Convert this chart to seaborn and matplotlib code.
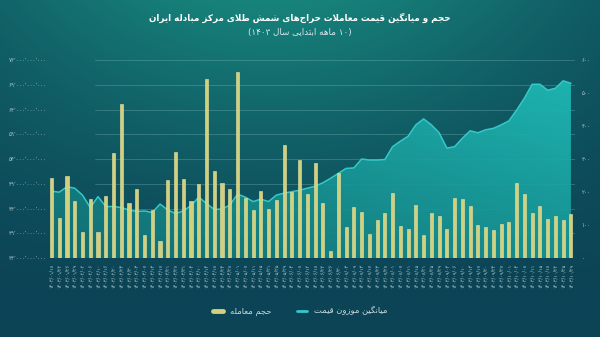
import re
import numpy as np
import matplotlib
matplotlib.use('Agg')
import matplotlib.pyplot as plt
from matplotlib.lines import Line2D
import seaborn as sns

# ── data ─────────────────────────────────────────────────────────────────────
auction_dates = [
    "1403/01/18", "1403/01/22", "1403/01/26", "1403/01/29",
    "1403/02/02", "1403/02/06", "1403/02/10", "1403/02/16", "1403/02/20", "1403/02/24", "1403/02/30",
    "1403/03/03", "1403/03/07", "1403/03/13", "1403/03/17", "1403/03/21", "1403/03/27", "1403/03/31",
    "1403/04/04", "1403/04/10", "1403/04/14", "1403/04/18", "1403/04/24", "1403/04/28",
    "1403/05/01", "1403/05/07", "1403/05/11", "1403/05/15", "1403/05/21", "1403/05/25", "1403/05/29",
    "1403/06/04", "1403/06/08", "1403/06/12", "1403/06/18", "1403/06/22", "1403/06/26", "1403/06/30",
    "1403/07/03", "1403/07/09", "1403/07/13", "1403/07/17", "1403/07/23", "1403/07/27",
    "1403/08/01", "1403/08/07", "1403/08/11", "1403/08/15", "1403/08/21", "1403/08/25", "1403/08/29",
    "1403/09/03", "1403/09/06", "1403/09/10", "1403/09/13", "1403/09/17", "1403/09/20", "1403/09/24", "1403/09/27",
    "1403/10/01", "1403/10/04", "1403/10/08", "1403/10/11", "1403/10/15", "1403/10/18", "1403/10/22",
    "1403/10/25", "1403/10/29",
]

# traded volume (right axis)
volume = [
    243, 120, 248, 173, 78, 178, 78, 188, 317, 467, 166, 210, 70, 145,
    51, 236, 322, 240, 173, 223, 541, 265, 227, 210, 564, 181, 145, 203,
    148, 176, 342, 199, 297, 193, 289, 166, 21, 259, 95, 156, 138,
    73, 115, 135, 196, 98, 89, 160, 69, 136, 127, 87, 182, 180, 158,
    100, 94, 85, 104, 109, 227, 193, 136, 158, 119, 128, 114, 133,
]

# weighted average price, billions (left axis)
price_bn = [
    47.5, 47.3, 48.4, 48.1, 46.7, 44.2, 46.4, 44.4, 44.4, 44.2, 43.7, 43.4, 43.5, 43.2,
    44.9, 43.7, 43.0, 43.5, 44.6, 46.3, 45.0, 43.8, 43.9, 44.7, 46.9, 46.3, 45.4, 45.9,
    45.4, 46.7, 47.1, 47.4, 47.7, 48.1, 48.5, 49.2, 50.1, 51.1, 52.1, 52.2, 54.0,
    53.8, 53.8, 53.9, 56.5, 57.6, 58.6, 60.9, 62.1, 60.9, 59.3, 56.2, 56.5, 58.2, 59.7,
    59.3, 59.9, 60.2, 60.9, 61.7, 63.9, 66.3, 69.1, 69.1, 67.9, 68.3, 69.8, 69.3,
]

price_ticks_bn = [34, 39, 44, 49, 54, 59, 64, 69, 74]
volume_ticks = [0, 100, 200, 300, 400, 500, 600]

TITLE = "حجم و میانگین قیمت معاملات حراج\u200cهای شمش طلای مرکز مبادله ایران"
SUBTITLE = "(۱۰ ماهه ابتدایی سال ۱۴۰۳)"
LABEL_VOLUME = "حجم معامله"
LABEL_PRICE = "میانگین موزون قیمت"

BAR_COLOR = '#d3cf7a'
LINE_COLOR = '#36c7c7'
TEXT_COLOR = '#a9c6cb'

# ── minimal Persian shaping (matplotlib has no complex text layout) ──────────
FORMS = {  # isolated, final, initial, medial
    0x0627: (0xFE8D, 0xFE8E, None, None), 0x0622: (0xFE81, 0xFE82, None, None),
    0x0628: (0xFE8F, 0xFE90, 0xFE91, 0xFE92), 0x067E: (0xFB56, 0xFB57, 0xFB58, 0xFB59),
    0x062A: (0xFE95, 0xFE96, 0xFE97, 0xFE98), 0x062C: (0xFE9D, 0xFE9E, 0xFE9F, 0xFEA0),
    0x0686: (0xFB7A, 0xFB7B, 0xFB7C, 0xFB7D), 0x062D: (0xFEA1, 0xFEA2, 0xFEA3, 0xFEA4),
    0x062E: (0xFEA5, 0xFEA6, 0xFEA7, 0xFEA8), 0x062F: (0xFEA9, 0xFEAA, None, None),
    0x0631: (0xFEAD, 0xFEAE, None, None), 0x0632: (0xFEAF, 0xFEB0, None, None),
    0x0698: (0xFB8A, 0xFB8B, None, None), 0x0633: (0xFEB1, 0xFEB2, 0xFEB3, 0xFEB4),
    0x0634: (0xFEB5, 0xFEB6, 0xFEB7, 0xFEB8), 0x0637: (0xFEC1, 0xFEC2, 0xFEC3, 0xFEC4),
    0x0639: (0xFEC9, 0xFECA, 0xFECB, 0xFECC), 0x0641: (0xFED1, 0xFED2, 0xFED3, 0xFED4),
    0x0642: (0xFED5, 0xFED6, 0xFED7, 0xFED8), 0x06A9: (0xFB8E, 0xFB8F, 0xFB90, 0xFB91),
    0x06AF: (0xFB92, 0xFB93, 0xFB94, 0xFB95), 0x0644: (0xFEDD, 0xFEDE, 0xFEDF, 0xFEE0),
    0x0645: (0xFEE1, 0xFEE2, 0xFEE3, 0xFEE4), 0x0646: (0xFEE5, 0xFEE6, 0xFEE7, 0xFEE8),
    0x0647: (0xFEE9, 0xFEEA, 0xFEEB, 0xFEEC), 0x0648: (0xFEED, 0xFEEE, None, None),
    0x06CC: (0xFBFC, 0xFBFD, 0xFBFE, 0xFBFF),
}
LAM_ALEF = {0x0627: (0xFEFB, 0xFEFC), 0x0622: (0xFEF5, 0xFEF6)}
FA_DIGITS = str.maketrans('0123456789,', '۰۱۲۳۴۵۶۷۸۹٬')


def shape(s):
    out, prev_join, i = [], False, 0
    while i < len(s):
        o = ord(s[i])
        nxt = ord(s[i + 1]) if i + 1 < len(s) else None
        if o not in FORMS:
            out.append('' if s[i] == '\u200c' else s[i])
            prev_join = False
            i += 1
            continue
        if o == 0x0644 and nxt in LAM_ALEF:
            out.append(chr(LAM_ALEF[nxt][1 if prev_join else 0]))
            prev_join = False
            i += 2
            continue
        f = FORMS[o]
        can_next = f[2] is not None and nxt in FORMS
        g = f[3] if (prev_join and can_next) else f[1] if prev_join else f[2] if can_next else f[0]
        out.append(chr(g))
        prev_join = can_next
        i += 1
    tokens = re.findall(r'[0-9۰-۹٬/]+|.', ''.join(out))[::-1]
    return ''.join({'(': ')', ')': '('}.get(t, t) for t in tokens)


sns.set_theme(style='white')
plt.rcParams['font.family'] = ['DejaVu Sans']

fig = plt.figure(figsize=(6, 3.37), dpi=100)

# background gradient
bg = fig.add_axes([0, 0, 1, 1], zorder=-10)
gx, gy = np.meshgrid(np.linspace(0, 1, 300), np.linspace(0, 1, 170))
w = np.clip(1 - gy / 0.85, 0, 1) ** 1.2 * np.exp(-((gx - 0.45) / 0.55) ** 2)
dark = np.array(matplotlib.colors.to_rgb('#0c4456'))
light = np.array(matplotlib.colors.to_rgb('#17837b'))
bg.imshow(dark + (light - dark) * w[..., None], aspect='auto', extent=[0, 1, 0, 1], origin='upper')
bg.axis('off')

ax_bar = fig.add_axes([0.08, 0.2344, 0.878, 0.5875])
ax_price = ax_bar.twinx()
ax_bar.set_zorder(ax_price.get_zorder() + 1)
ax_bar.patch.set_visible(False)
ax_price.patch.set_visible(False)

x_idx = np.arange(len(price_bn))
price = np.array(price_bn) * 1e9
dates_fa = [d.translate(FA_DIGITS) for d in auction_dates]

# grid lines (price axis)
for t in price_ticks_bn[1:]:
    ax_price.axhline(t * 1e9, xmin=0.09, xmax=1, color='#9fd0d4', alpha=0.3, lw=0.6, zorder=0.5)

# gradient area under the price line
poly = ax_price.fill_between(x_idx, price, 34e9, color='none', lw=0)
u, v = np.meshgrid(np.linspace(0, 1, 200), np.linspace(0, 1, 120))
t = np.clip(0.1 + 0.45 * u + 0.5 * v, 0, 1)
lo = np.array(matplotlib.colors.to_rgb('#10666c'))
hi = np.array(matplotlib.colors.to_rgb('#1fbcb7'))
im = ax_price.imshow(lo + (hi - lo) * t[..., None], extent=[x_idx[0], x_idx[-1], 34e9, 74e9],
                     aspect='auto', origin='lower', zorder=1, alpha=0.92)
im.set_clip_path(poly.get_paths()[0], transform=ax_price.transData)
sns.lineplot(x=x_idx, y=price, ax=ax_price, color=LINE_COLOR, linewidth=1.1, zorder=2)

# bars (volume)
sns.barplot(x=dates_fa, y=volume, ax=ax_bar, color=BAR_COLOR, saturation=1, width=0.4,
            edgecolor='#e9e7a8', linewidth=0.4)
ax_bar.axhline(0, color='#7dbcc3', lw=0.7, zorder=3)

ax_bar.set_xlim(-0.45, len(x_idx) - 0.5)
ax_bar.set_ylim(0, 600)
ax_price.set_ylim(34e9, 74e9)

ax_bar.yaxis.tick_right()
ax_price.yaxis.tick_left()
ax_bar.set_yticks(volume_ticks)
ax_bar.set_yticklabels([str(v).translate(FA_DIGITS) for v in volume_ticks])
ax_price.set_yticks([t * 1e9 for t in price_ticks_bn])
ax_price.set_yticklabels([f'{t * 1000000000:,}'.translate(FA_DIGITS) for t in price_ticks_bn])
ax_bar.set_xticks(x_idx)
ax_bar.set_xticklabels(dates_fa, rotation=90)

ax_bar.tick_params(axis='x', length=0, pad=4, labelsize=3.6, labelcolor=TEXT_COLOR)
ax_bar.tick_params(axis='y', length=0, pad=5, labelsize=4, labelcolor=TEXT_COLOR)
ax_price.tick_params(axis='y', length=0, pad=1, labelsize=4, labelcolor=TEXT_COLOR)
for a in (ax_bar, ax_price):
    a.set_xlabel('')
    a.set_ylabel('')
    for s in a.spines.values():
        s.set_visible(False)

fig.text(0.5, 1 - 18 / 337, shape(TITLE), ha='center', va='center', fontsize=6.3,
         fontweight='bold', color='white')
fig.text(0.5, 1 - 32 / 337, shape(SUBTITLE), ha='center', va='center', fontsize=6.3, color='#d8e6e8')

handles = [Line2D([], [], color=BAR_COLOR, lw=3.5), Line2D([], [], color=LINE_COLOR, lw=2)]
fig.legend(handles, [shape(LABEL_VOLUME), shape(LABEL_PRICE)], loc='center',
           bbox_to_anchor=(0.5, 1 - 311 / 337), ncol=2, frameon=False, fontsize=6,
           labelcolor='#c9d9dc', handlelength=1.3, columnspacing=3)

fig.savefig('out.png', dpi=100)
